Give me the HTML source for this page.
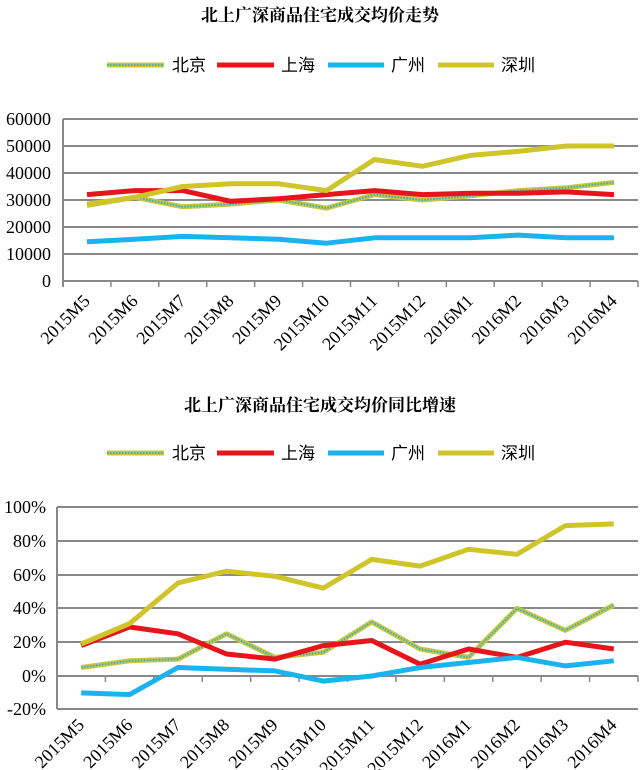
<!DOCTYPE html>
<html><head><meta charset="utf-8"><style>
html,body{margin:0;padding:0;background:#fff;}
svg{display:block;}
text{font-family:"Liberation Serif","Noto Serif CJK SC",serif;fill:#000;}
</style></head><body>
<svg width="640" height="770" viewBox="0 0 640 770" xmlns="http://www.w3.org/2000/svg">
<text x="320" y="21" text-anchor="middle" font-size="17" font-weight="bold">北上广深商品住宅成交均价走势</text>
<g stroke-width="5">
<line x1="107" y1="65" x2="164" y2="65" stroke="#c8c63c"/><line x1="107" y1="65" x2="164" y2="65" stroke="#2ab0e0" stroke-width="2" stroke-dasharray="1.5 1.5"/>
<line x1="217" y1="65" x2="274" y2="65" stroke="#e8141b"/>
<line x1="328" y1="65" x2="384" y2="65" stroke="#1ab3ee"/>
<line x1="438" y1="65" x2="494" y2="65" stroke="#cfc42a"/>
</g>
<g font-size="17">
<text x="172" y="71" style="font-family:'Noto Sans CJK SC',sans-serif">北京</text>
<text x="281" y="71" style="font-family:'Noto Sans CJK SC',sans-serif">上海</text>
<text x="391" y="71" style="font-family:'Noto Sans CJK SC',sans-serif">广州</text>
<text x="501" y="71" style="font-family:'Noto Sans CJK SC',sans-serif">深圳</text>
</g>
<g stroke="#888" stroke-width="2">
<line x1="63" y1="119" x2="638" y2="119"/><line x1="63" y1="146" x2="638" y2="146"/><line x1="63" y1="173" x2="638" y2="173"/><line x1="63" y1="200" x2="638" y2="200"/><line x1="63" y1="227" x2="638" y2="227"/><line x1="63" y1="254" x2="638" y2="254"/><line x1="63" y1="281" x2="638" y2="281"/>
<line x1="63" y1="119" x2="63" y2="287"/>
</g>
<g font-size="18" text-anchor="end">
<text x="51" y="125">60000</text><text x="51" y="152">50000</text><text x="51" y="179">40000</text><text x="51" y="206">30000</text><text x="51" y="233">20000</text><text x="51" y="260">10000</text><text x="51" y="287">0</text>
</g>
<g id="c1"></g>
<text x="320" y="411" text-anchor="middle" font-size="17" font-weight="bold">北上广深商品住宅成交均价同比增速</text>
<g stroke-width="5">
<line x1="107" y1="453" x2="164" y2="453" stroke="#c8c63c"/><line x1="107" y1="453" x2="164" y2="453" stroke="#2ab0e0" stroke-width="2" stroke-dasharray="1.5 1.5"/>
<line x1="217" y1="453" x2="274" y2="453" stroke="#e8141b"/>
<line x1="328" y1="453" x2="384" y2="453" stroke="#1ab3ee"/>
<line x1="438" y1="453" x2="494" y2="453" stroke="#cfc42a"/>
</g>
<g font-size="17">
<text x="172" y="459" style="font-family:'Noto Sans CJK SC',sans-serif">北京</text>
<text x="281" y="459" style="font-family:'Noto Sans CJK SC',sans-serif">上海</text>
<text x="391" y="459" style="font-family:'Noto Sans CJK SC',sans-serif">广州</text>
<text x="501" y="459" style="font-family:'Noto Sans CJK SC',sans-serif">深圳</text>
</g>
<g stroke="#888" stroke-width="2">
<line x1="57" y1="507" x2="638" y2="507"/><line x1="57" y1="541" x2="638" y2="541"/><line x1="57" y1="575" x2="638" y2="575"/><line x1="57" y1="608" x2="638" y2="608"/><line x1="57" y1="642" x2="638" y2="642"/><line x1="57" y1="676" x2="638" y2="676"/><line x1="57" y1="709" x2="638" y2="709"/>
<line x1="57" y1="507" x2="57" y2="709"/>
</g>
<g font-size="18" text-anchor="end">
<text x="46" y="513">100%</text><text x="46" y="547">80%</text><text x="46" y="581">60%</text><text x="46" y="614">40%</text><text x="46" y="648">20%</text><text x="46" y="682">0%</text><text x="46" y="715">-20%</text>
</g>
<g id="c2"></g>
<script>
var NS="http://www.w3.org/2000/svg";
function el(p,n,a,t){var e=document.createElementNS(NS,n);for(var k in a)e.setAttribute(k,a[k]);if(t)e.textContent=t;p.appendChild(e);return e;}
var labs=["2015M5","2015M6","2015M7","2015M8","2015M9","2015M10","2015M11","2015M12","2016M1","2016M2","2016M3","2016M4"];
function chart(g,x0,x1,ty,ly,yf,data){
 var w=(x1-x0)/12;
 for(var i=0;i<=12;i++){var x=x0+i*w;el(g,"line",{x1:x,y1:ty,x2:x,y2:ty+6,stroke:"#888","stroke-width":1.5});}
 for(var i=0;i<12;i++){var cx=x0+w*(i+0.5)+4;el(g,"text",{x:cx,y:ly,"text-anchor":"end","font-size":18,transform:"rotate(-45 "+cx+" "+ly+")"},labs[i]);}
 var order=[["bj","#c8c63c"],["sh","#e8141b"],["gz","#1ab3ee"],["sz","#cfc42a"]];
 order.forEach(function(o){var pts=data[o[0]].map(function(v,i){return (x0+w*(i+0.5)).toFixed(1)+","+yf(v).toFixed(1);}).join(" ");
  el(g,"polyline",{points:pts,fill:"none",stroke:o[1],"stroke-width":5,"stroke-linejoin":"round"});
  if(o[0]=="bj")el(g,"polyline",{points:pts,fill:"none",stroke:"#2ab0e0","stroke-width":2,"stroke-dasharray":"1.5 1.5"});});
}
chart(document.getElementById("c1"),63,638,281,302,function(v){return 281-v*27/10000;},{
 sz:[28500,31000,35000,36000,36000,33500,45000,42500,46500,48000,50000,50000],
 sh:[32000,33500,33500,29500,30500,32000,33500,32000,32500,32500,33000,32000],
 bj:[28000,31000,27500,28500,30000,27000,32000,30000,31500,33500,34500,36500],
 gz:[14500,15500,16500,16000,15500,14000,16000,16000,16000,17000,16000,16000]});
chart(document.getElementById("c2"),57,638,676,726,function(v){return 676-v*1.69;},{
 sz:[19,31,55,62,59,52,69,65,75,72,89,90],
 sh:[18,29,25,13,10,18,21,7,16,11,20,16],
 bj:[5,9,10,25,11,14,32,16,11,40,27,42],
 gz:[-10,-11,5,4,3,-3,0,5,8,11,6,9]});
</script>
</svg>
</body></html>
